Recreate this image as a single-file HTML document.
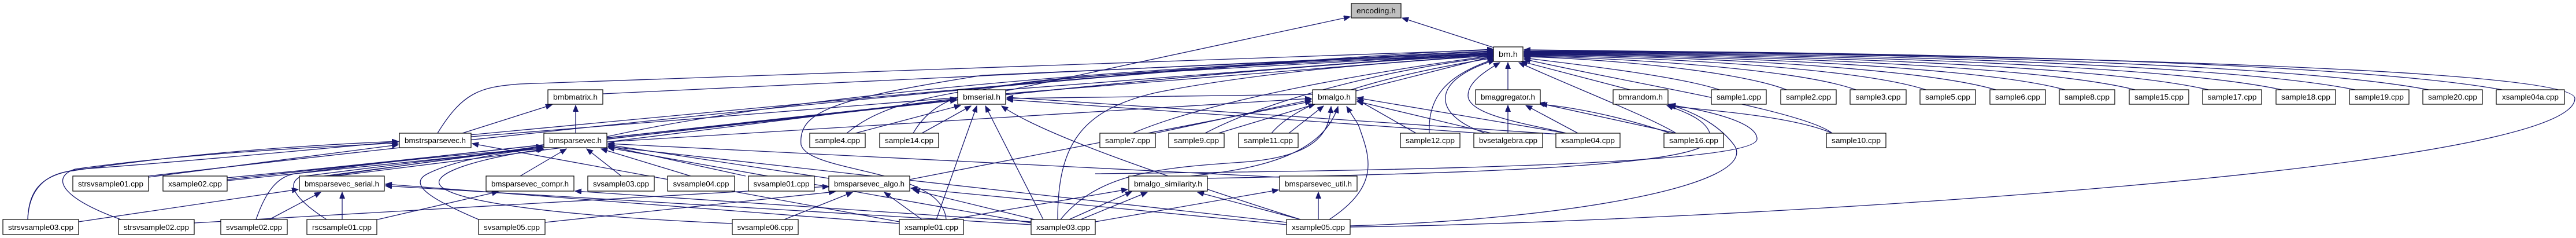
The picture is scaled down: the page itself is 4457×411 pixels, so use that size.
<!DOCTYPE html>
<html><head><meta charset="utf-8"><style>
html,body{margin:0;padding:0;background:#fff;}
svg{display:block;}
text{font-family:"Liberation Sans",sans-serif;font-size:13px;fill:#000;}
.e{fill:none;stroke:#191970;stroke-width:1.3;marker-end:url(#a);}
rect{fill:#fff;stroke:#000;stroke-width:1.2;}
</style></head><body>
<svg width="4457" height="411" viewBox="0 0 4457 411" xmlns="http://www.w3.org/2000/svg">
<defs><marker id="a" markerUnits="userSpaceOnUse" markerWidth="12" markerHeight="10" refX="11" refY="4.5" orient="auto"><path d="M0,0 L11,4.5 L0,9 z" fill="#191970" stroke="#191970"/></marker></defs>
<g>
<!-- encoding -->
<path class="e" d="M2584,82 L2426,31"/>
<path class="e" d="M1740,157 L2336,29"/>
<!-- to bm.h -->
<path class="e" d="M2609,155 L2609,108"/>
<path class="e" d="M2820,155 L2632,106"/>
<path class="e" d="M2975,155 C2900,130 2700,108 2637,100"/>
<path class="e" d="M3091,155 C3000,120 2750,100 2637,98"/>
<path class="e" d="M3211,155 C3100,115 2750,98 2637,97"/>
<path class="e" d="M3332,155 C3200,112 2780,96 2637,96"/>
<path class="e" d="M3453,155 C3300,110 2800,94 2637,95"/>
<path class="e" d="M3573,155 C3400,108 2820,93 2637,94"/>
<path class="e" d="M3694,155 C3500,106 2840,92 2637,93"/>
<path class="e" d="M3821,155 C3600,104 2860,91 2637,92"/>
<path class="e" d="M3948,155 C3700,102 2880,90 2637,91"/>
<path class="e" d="M4075,155 C3800,100 2900,89 2637,90"/>
<path class="e" d="M4202,155 C3900,98 2920,88 2637,89"/>
<path class="e" d="M4329,155 C4000,96 2940,87 2637,88"/>
<path class="e" d="M2336,392 C2900,385 4455,300 4455,170 C4455,110 3200,92 2637,86"/>
<path class="e" d="M3170,230 C3120,190 2800,140 2637,102"/>
<path class="e" d="M2900,230 C2850,200 2720,150 2628,108"/>
<path class="e" d="M2710,230 C2650,215 2540,200 2540,165 C2540,140 2575,120 2595,108"/>
<path class="e" d="M2570,230 C2480,200 2470,140 2586,104"/>
<path class="e" d="M2473,230 C2470,170 2500,130 2586,102"/>
<path class="e" d="M2200,230 C2250,170 2400,130 2584,100"/>
<path class="e" d="M2085,230 C2200,170 2400,120 2584,98"/>
<path class="e" d="M1960,230 C2100,170 2400,120 2584,96"/>
<path class="e" d="M2346,157 L2584,97"/>
<path class="e" d="M1830,379 C1830,250 1870,190 2000,160 C2200,120 2450,105 2584,96"/>
<path class="e" d="M1580,230 C1620,160 1700,140 2000,125 L2584,92"/>
<path class="e" d="M1465,230 C1550,160 1700,130 2584,93"/>
<path class="e" d="M1740,155 L2584,90"/>
<path class="e" d="M1637,379 C1630,290 1400,300 1386,250 C1380,190 1450,170 1700,130 L2584,91"/>
<path class="e" d="M1050,236 C1300,180 1800,120 2584,92"/>
<path class="e" d="M1043,162 L2584,89"/>
<path class="e" d="M815,236 L2584,94"/>
<path class="e" d="M757,230 C800,160 830,150 900,145 L2584,86"/>
<path class="e" d="M393,307 C1000,250 2000,120 2584,95"/>
<path class="e" d="M257,304 C900,230 2000,110 2584,88"/>
<path class="e" d="M565,379 C520,350 490,320 520,305 C800,270 2000,120 2584,94"/>
<path class="e" d="M48,379 C50,320 80,300 140,292 C600,260 2000,110 2584,85"/>
<!-- bmstrsparsevec -->
<path class="e" d="M48,379 C50,325 80,300 125,295 C300,268 500,252 689,244"/>
<path class="e" d="M209,379 C100,340 90,305 130,292 C300,268 500,256 689,247"/>
<path class="e" d="M257,306 L689,250"/>
<path class="e" d="M1556,383 L817,248"/>
<!-- bmserial -->
<path class="e" d="M1480,230 L1662,182"/>
<path class="e" d="M1595,230 L1680,183"/>
<path class="e" d="M1620,379 L1690,183"/>
<path class="e" d="M1805,379 L1705,183"/>
<path class="e" d="M2250,379 C2000,300 1800,230 1733,183"/>
<path class="e" d="M393,310 L1655,172"/>
<path class="e" d="M580,304 L1655,170"/>
<path class="e" d="M1050,240 L1655,173"/>
<path class="e" d="M2560,230 L1742,172"/>
<path class="e" d="M2700,232 L1742,168"/>
<path class="e" d="M2271,163 L1742,170"/>
<!-- bmalgo -->
<path class="e" d="M1999,230 L2269,172"/>
<path class="e" d="M2108,230 L2275,180"/>
<path class="e" d="M2230,230 L2290,183"/>
<path class="e" d="M2450,230 L2348,172"/>
<path class="e" d="M2580,230 L2348,175"/>
<path class="e" d="M2710,230 L2348,169"/>
<path class="e" d="M1574,310 L2269,175"/>
<path class="e" d="M1050,245 L2269,170"/>
<path class="e" d="M1835,379 C1900,300 2000,290 2150,280 C2290,270 2300,220 2303,184"/>
<path class="e" d="M2300,379 C2390,320 2370,270 2350,215 L2330,184"/>
<path class="e" d="M2060,304 C2200,290 2290,260 2315,184"/>
<!-- bmbmatrix -->
<path class="e" d="M800,230 L955,181"/>
<path class="e" d="M996,230 L996,182"/>
<!-- bmsparsevec -->
<path class="e" d="M900,304 L980,257"/>
<path class="e" d="M1075,304 L1015,257"/>
<path class="e" d="M1195,304 L1040,257"/>
<path class="e" d="M1290,304 L1052,252"/>
<path class="e" d="M1434,308 L1052,250"/>
<path class="e" d="M570,304 L939,252"/>
<path class="e" d="M560,304 L939,254"/>
<path class="e" d="M393,312 L939,256"/>
<path class="e" d="M443,379 C460,330 480,305 510,300 C700,275 850,262 939,257"/>
<path class="e" d="M828,379 C760,350 700,320 740,300 C780,280 850,265 940,256"/>
<path class="e" d="M1267,386 C900,370 750,340 760,312 C770,285 900,262 941,258"/>
<path class="e" d="M1784,385 L1052,255"/>
<path class="e" d="M2226,384 L1052,253"/>
<path class="e" d="M2214,306 L1052,248"/>
<!-- bmsparsevec_serial -->
<path class="e" d="M466,379 L555,332"/>
<path class="e" d="M592,379 L592,332"/>
<path class="e" d="M136,383 L516,327"/>
<path class="e" d="M1556,386 L667,318"/>
<path class="e" d="M1784,388 L667,321"/>
<!-- compr -->
<path class="e" d="M645,381 L862,331"/>
<path class="e" d="M1784,383 L995,330"/>
<!-- bmsparsevec_algo -->
<path class="e" d="M336,385 L1434,322"/>
<path class="e" d="M943,384 L1445,331"/>
<path class="e" d="M1357,379 L1475,332"/>
<path class="e" d="M1595,379 L1530,332"/>
<path class="e" d="M1790,379 L1580,328"/>
<path class="e" d="M2226,388 L1576,325"/>
<!-- similarity / util -->
<path class="e" d="M1644,379 L1951,327"/>
<path class="e" d="M1850,379 L1958,331"/>
<path class="e" d="M1870,379 L1985,332"/>
<path class="e" d="M2250,379 L2072,332"/>
<path class="e" d="M1895,383 L2212,328"/>
<path class="e" d="M2281,379 L2281,332"/>
<!-- bmaggregator -->
<path class="e" d="M2609,230 L2609,182"/>
<path class="e" d="M2730,230 L2640,182"/>
<path class="e" d="M2900,230 L2662,178"/>
<path class="e" d="M2890,230 C2800,200 2720,185 2666,180"/>
<!-- bmrandom -->
<path class="e" d="M2089,308 C2500,300 2950,290 2960,240 C2960,210 2920,195 2884,182"/>
<path class="e" d="M2336,390 C2700,380 3050,320 3000,250 C2970,210 2920,190 2886,180"/>
<path class="e" d="M1895,300 C2400,295 3040,285 3040,240 C3040,210 2950,190 2888,181"/>
<path class="e" d="M3170,230 C3100,200 2950,190 2888,183"/>
</g>
<g>
<rect x="2338" y="6" width="86" height="25" style="fill:#bfbfbf"/><text x="2381" y="23" text-anchor="middle" textLength="68" lengthAdjust="spacingAndGlyphs">encoding.h</text>
<rect x="2584" y="81" width="51" height="25"/><text x="2609.5" y="98" text-anchor="middle" textLength="33" lengthAdjust="spacingAndGlyphs">bm.h</text>
<rect x="948" y="155" width="95" height="25"/><text x="995.5" y="172" text-anchor="middle" textLength="77" lengthAdjust="spacingAndGlyphs">bmbmatrix.h</text>
<rect x="1657" y="155" width="83" height="25"/><text x="1698.5" y="172" text-anchor="middle" textLength="65" lengthAdjust="spacingAndGlyphs">bmserial.h</text>
<rect x="2271" y="155" width="75" height="25"/><text x="2308.5" y="172" text-anchor="middle" textLength="57" lengthAdjust="spacingAndGlyphs">bmalgo.h</text>
<rect x="2553" y="155" width="112" height="25"/><text x="2609" y="172" text-anchor="middle" textLength="94" lengthAdjust="spacingAndGlyphs">bmaggregator.h</text>
<rect x="2791" y="155" width="95" height="25"/><text x="2838.5" y="172" text-anchor="middle" textLength="77" lengthAdjust="spacingAndGlyphs">bmrandom.h</text>
<rect x="2961" y="155" width="95" height="25"/><text x="3008.5" y="172" text-anchor="middle" textLength="77" lengthAdjust="spacingAndGlyphs">sample1.cpp</text>
<rect x="3081" y="155" width="96" height="25"/><text x="3129" y="172" text-anchor="middle" textLength="78" lengthAdjust="spacingAndGlyphs">sample2.cpp</text>
<rect x="3201" y="155" width="97" height="25"/><text x="3249.5" y="172" text-anchor="middle" textLength="78" lengthAdjust="spacingAndGlyphs">sample3.cpp</text>
<rect x="3322" y="155" width="96" height="25"/><text x="3370" y="172" text-anchor="middle" textLength="78" lengthAdjust="spacingAndGlyphs">sample5.cpp</text>
<rect x="3443" y="155" width="96" height="25"/><text x="3491" y="172" text-anchor="middle" textLength="78" lengthAdjust="spacingAndGlyphs">sample6.cpp</text>
<rect x="3563" y="155" width="96" height="25"/><text x="3611" y="172" text-anchor="middle" textLength="78" lengthAdjust="spacingAndGlyphs">sample8.cpp</text>
<rect x="3684" y="155" width="103" height="25"/><text x="3735.5" y="172" text-anchor="middle" textLength="85" lengthAdjust="spacingAndGlyphs">sample15.cpp</text>
<rect x="3811" y="155" width="102" height="25"/><text x="3862" y="172" text-anchor="middle" textLength="85" lengthAdjust="spacingAndGlyphs">sample17.cpp</text>
<rect x="3938" y="155" width="103" height="25"/><text x="3989.5" y="172" text-anchor="middle" textLength="85" lengthAdjust="spacingAndGlyphs">sample18.cpp</text>
<rect x="4065" y="155" width="103" height="25"/><text x="4116.5" y="172" text-anchor="middle" textLength="85" lengthAdjust="spacingAndGlyphs">sample19.cpp</text>
<rect x="4192" y="155" width="103" height="25"/><text x="4243.5" y="172" text-anchor="middle" textLength="85" lengthAdjust="spacingAndGlyphs">sample20.cpp</text>
<rect x="4319" y="155" width="118" height="25"/><text x="4378" y="172" text-anchor="middle" textLength="98" lengthAdjust="spacingAndGlyphs">xsample04a.cpp</text>

<rect x="691" y="230" width="124" height="25"/><text x="753" y="247" text-anchor="middle" textLength="106" lengthAdjust="spacingAndGlyphs">bmstrsparsevec.h</text>
<rect x="941" y="230" width="109" height="25"/><text x="995.5" y="247" text-anchor="middle" textLength="91" lengthAdjust="spacingAndGlyphs">bmsparsevec.h</text>
<rect x="1401" y="230" width="96" height="25"/><text x="1449" y="247" text-anchor="middle" textLength="78" lengthAdjust="spacingAndGlyphs">sample4.cpp</text>
<rect x="1522" y="230" width="102" height="25"/><text x="1573" y="247" text-anchor="middle" textLength="84" lengthAdjust="spacingAndGlyphs">sample14.cpp</text>
<rect x="1903" y="230" width="96" height="25"/><text x="1951" y="247" text-anchor="middle" textLength="78" lengthAdjust="spacingAndGlyphs">sample7.cpp</text>
<rect x="2022" y="230" width="96" height="25"/><text x="2070" y="247" text-anchor="middle" textLength="78" lengthAdjust="spacingAndGlyphs">sample9.cpp</text>
<rect x="2143" y="230" width="103" height="25"/><text x="2194.5" y="247" text-anchor="middle" textLength="85" lengthAdjust="spacingAndGlyphs">sample11.cpp</text>
<rect x="2423" y="230" width="103" height="25"/><text x="2474.5" y="247" text-anchor="middle" textLength="85" lengthAdjust="spacingAndGlyphs">sample12.cpp</text>
<rect x="2550" y="230" width="119" height="25"/><text x="2609.5" y="247" text-anchor="middle" textLength="101" lengthAdjust="spacingAndGlyphs">bvsetalgebra.cpp</text>
<rect x="2692" y="230" width="111" height="25"/><text x="2747.5" y="247" text-anchor="middle" textLength="93" lengthAdjust="spacingAndGlyphs">xsample04.cpp</text>
<rect x="2879" y="230" width="103" height="25"/><text x="2930.5" y="247" text-anchor="middle" textLength="85" lengthAdjust="spacingAndGlyphs">sample16.cpp</text>
<rect x="3160" y="230" width="103" height="25"/><text x="3211.5" y="247" text-anchor="middle" textLength="85" lengthAdjust="spacingAndGlyphs">sample10.cpp</text>

<rect x="126" y="304" width="131" height="26"/><text x="191.5" y="322" text-anchor="middle" textLength="113" lengthAdjust="spacingAndGlyphs">strsvsample01.cpp</text>
<rect x="282" y="304" width="111" height="26"/><text x="337.5" y="322" text-anchor="middle" textLength="93" lengthAdjust="spacingAndGlyphs">xsample02.cpp</text>
<rect x="518" y="304" width="147" height="26"/><text x="591.5" y="322" text-anchor="middle" textLength="129" lengthAdjust="spacingAndGlyphs">bmsparsevec_serial.h</text>
<rect x="841" y="304" width="152" height="26"/><text x="917" y="322" text-anchor="middle" textLength="134" lengthAdjust="spacingAndGlyphs">bmsparsevec_compr.h</text>
<rect x="1017" y="304" width="115" height="26"/><text x="1074.5" y="322" text-anchor="middle" textLength="97" lengthAdjust="spacingAndGlyphs">svsample03.cpp</text>
<rect x="1155" y="304" width="116" height="26"/><text x="1213" y="322" text-anchor="middle" textLength="97" lengthAdjust="spacingAndGlyphs">svsample04.cpp</text>
<rect x="1295" y="304" width="114" height="26"/><text x="1352" y="322" text-anchor="middle" textLength="97" lengthAdjust="spacingAndGlyphs">svsample01.cpp</text>
<rect x="1434" y="304" width="140" height="26"/><text x="1504" y="322" text-anchor="middle" textLength="122" lengthAdjust="spacingAndGlyphs">bmsparsevec_algo.h</text>
<rect x="1953" y="304" width="136" height="26"/><text x="2021" y="322" text-anchor="middle" textLength="118" lengthAdjust="spacingAndGlyphs">bmalgo_similarity.h</text>
<rect x="2214" y="304" width="134" height="26"/><text x="2281" y="322" text-anchor="middle" textLength="116" lengthAdjust="spacingAndGlyphs">bmsparsevec_util.h</text>

<rect x="5" y="379" width="131" height="26"/><text x="70.5" y="397" text-anchor="middle" textLength="113" lengthAdjust="spacingAndGlyphs">strsvsample03.cpp</text>
<rect x="205" y="379" width="131" height="26"/><text x="270.5" y="397" text-anchor="middle" textLength="113" lengthAdjust="spacingAndGlyphs">strsvsample02.cpp</text>
<rect x="382" y="379" width="115" height="26"/><text x="439.5" y="397" text-anchor="middle" textLength="97" lengthAdjust="spacingAndGlyphs">svsample02.cpp</text>
<rect x="531" y="379" width="121" height="26"/><text x="591.5" y="397" text-anchor="middle" textLength="103" lengthAdjust="spacingAndGlyphs">rscsample01.cpp</text>
<rect x="828" y="379" width="115" height="26"/><text x="885.5" y="397" text-anchor="middle" textLength="97" lengthAdjust="spacingAndGlyphs">svsample05.cpp</text>
<rect x="1267" y="379" width="114" height="26"/><text x="1324" y="397" text-anchor="middle" textLength="97" lengthAdjust="spacingAndGlyphs">svsample06.cpp</text>
<rect x="1556" y="379" width="111" height="26"/><text x="1611.5" y="397" text-anchor="middle" textLength="93" lengthAdjust="spacingAndGlyphs">xsample01.cpp</text>
<rect x="1784" y="379" width="111" height="26"/><text x="1839.5" y="397" text-anchor="middle" textLength="93" lengthAdjust="spacingAndGlyphs">xsample03.cpp</text>
<rect x="2226" y="379" width="110" height="26"/><text x="2281" y="397" text-anchor="middle" textLength="92" lengthAdjust="spacingAndGlyphs">xsample05.cpp</text>
</g>
</svg>
</body></html>
